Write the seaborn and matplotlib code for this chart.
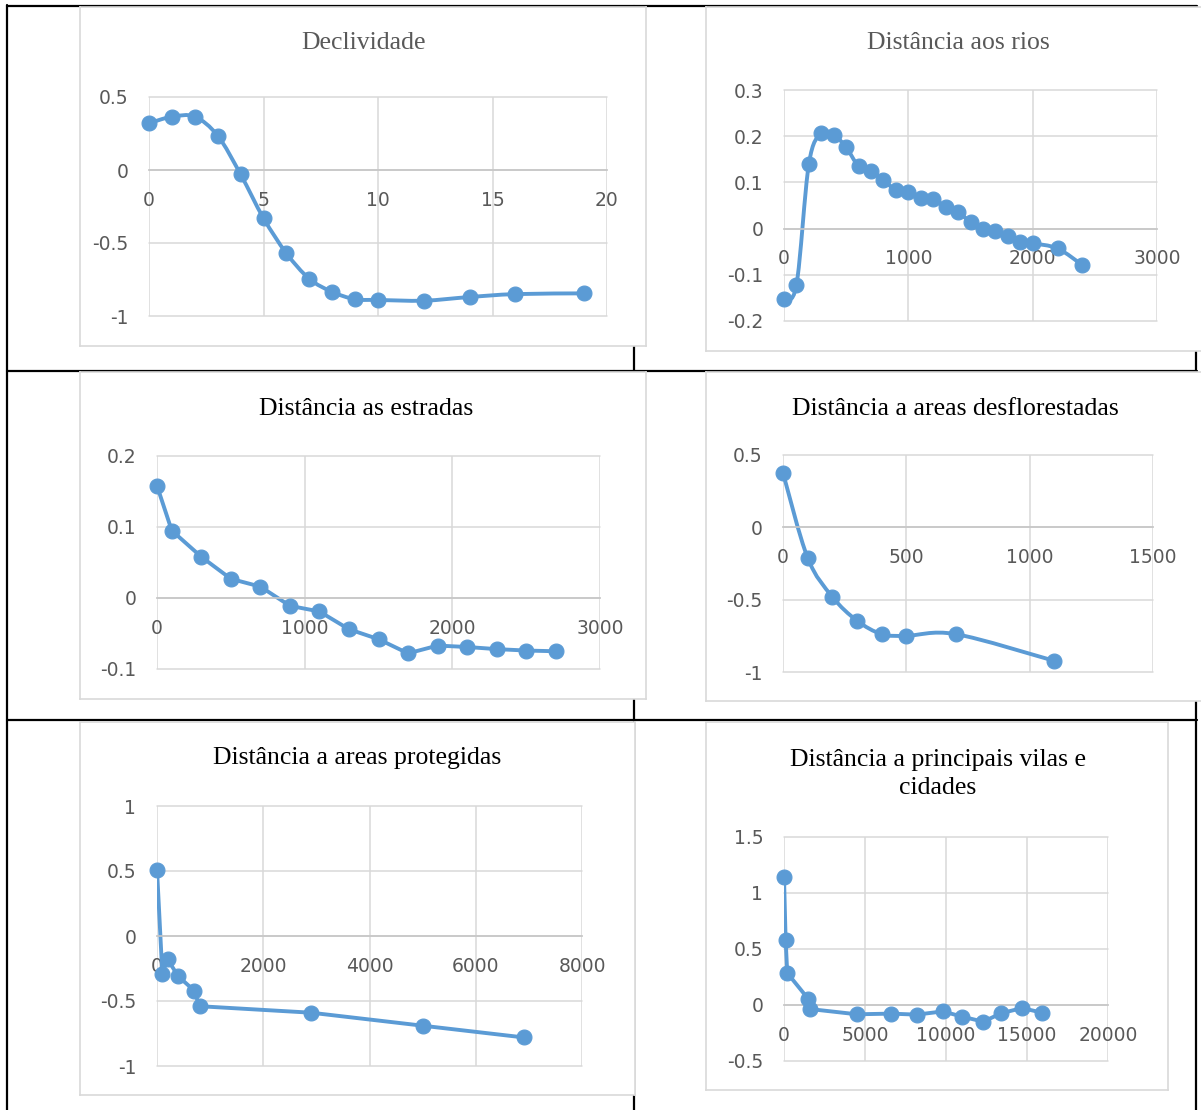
import numpy as np
import matplotlib
matplotlib.use("Agg")
import matplotlib.pyplot as plt
import seaborn as sns
import pandas as pd
from matplotlib.path import Path
from matplotlib.patches import PathPatch
from matplotlib.lines import Line2D

# ---------------- data ----------------
titles = ["Declividade", "Distância aos rios", "Distância as estradas",
          "Distância a areas desflorestadas", "Distância a areas protegidas",
          "Distância a principais vilas e\ncidades"]

decl_x = [0, 1, 2, 3, 4, 5, 6, 7, 8, 9, 10, 12, 14, 16, 19]
decl_y = [0.32, 0.365, 0.365, 0.235, -0.03, -0.33, -0.57, -0.745, -0.835,
          -0.885, -0.89, -0.895, -0.87, -0.85, -0.845]

rios_x = [0, 100, 200, 300, 400, 500, 600, 700, 800, 900, 1000, 1100, 1200,
          1300, 1400, 1500, 1600, 1700, 1800, 1900, 2000, 2200, 2400]
rios_y = [-0.153, -0.122, 0.140, 0.207, 0.203, 0.176, 0.135, 0.124, 0.105,
          0.083, 0.079, 0.066, 0.065, 0.047, 0.036, 0.014, -0.001, -0.006,
          -0.017, -0.030, -0.032, -0.043, -0.079]

estr_x = [0, 100, 300, 500, 700, 900, 1100, 1300, 1500, 1700, 1900, 2100,
          2300, 2500, 2700]
estr_y = [0.158, 0.095, 0.058, 0.027, 0.016, -0.011, -0.019, -0.044, -0.058,
          -0.078, -0.067, -0.069, -0.072, -0.074, -0.075]

desf_x = [0, 100, 200, 300, 400, 500, 700, 1100]
desf_y = [0.376, -0.211, -0.48, -0.645, -0.738, -0.75, -0.738, -0.923]

prot_x = [0, 100, 200, 400, 700, 800, 2900, 5000, 6900]
prot_y = [0.51, -0.29, -0.18, -0.31, -0.42, -0.54, -0.59, -0.69, -0.78]

vilas_x = [0, 100, 200, 1500, 1600, 4500, 6600, 8200, 9800, 11000, 12300,
           13400, 14700, 15900]
vilas_y = [1.143, 0.583, 0.286, 0.054, -0.036, -0.083, -0.077, -0.086,
           -0.057, -0.104, -0.149, -0.074, -0.027, -0.068]

xticks = [[0, 5, 10, 15, 20], [0, 1000, 2000, 3000], [0, 1000, 2000, 3000],
          [0, 500, 1000, 1500], [0, 2000, 4000, 6000, 8000],
          [0, 5000, 10000, 15000, 20000]]
yticks = [[-1, -0.5, 0, 0.5], [-0.2, -0.1, 0, 0.1, 0.2, 0.3],
          [-0.1, 0, 0.1, 0.2], [-1, -0.5, 0, 0.5], [-1, -0.5, 0, 0.5, 1],
          [-0.5, 0, 0.5, 1, 1.5]]
series = [(decl_x, decl_y), (rios_x, rios_y), (estr_x, estr_y),
          (desf_x, desf_y), (prot_x, prot_y), (vilas_x, vilas_y)]
smoothed = [True, True, False, True, False, False]
title_colors = ["#595959", "#595959", "black", "black", "black", "black"]

# ---------------- layout (pixels) ----------------
W, H = 1201, 1110
chart_boxes = [(80, 7, 646, 346), (706, 7, 1205, 351), (80, 372, 646, 699),
               (706, 372, 1205, 701), (80, 722, 635, 1095), (706, 722, 1168, 1090)]
plot_boxes = [(149, 97, 607, 316), (784, 90, 1157, 321), (157, 456, 600, 669),
              (783, 455, 1153, 672), (157, 806, 582, 1066), (784, 837, 1108, 1061)]
title_pos = [(364, 43), (958, 43), (366, 409), (955, 409), (357, 758), (938, 774)]

BLUE = "#5b9bd5"
GRID = "#d9d9d9"
TICKC = "#595959"

sns.set_theme(style="white")
plt.rcParams["font.family"] = ["DejaVu Sans"]

fig = plt.figure(figsize=(W / 100, H / 100), dpi=100)
fig.patch.set_facecolor("white")


def rect(box):
    x0, y0, x1, y1 = box
    return [x0 / W, 1 - y1 / H, (x1 - x0) / W, (y1 - y0) / H]


def fx(px):
    return px / W


def fy(py):
    return 1 - py / H


# table lines
for (xa, ya, xb, yb) in [(7, 5, 7, 1110), (7, 6, 1197, 6), (7, 371, 1197, 371),
                         (7, 720, 1197, 720), (634, 6, 634, 1110),
                         (1196, 6, 1196, 1110)]:
    fig.add_artist(Line2D([fx(xa), fx(xb)], [fy(ya), fy(yb)], color="black",
                          lw=1.6, zorder=-5, transform=fig.transFigure))


def smooth_path(x, y):
    pts = np.column_stack([x, y]).astype(float)
    n = len(pts)
    verts = [pts[0]]
    codes = [Path.MOVETO]
    for i in range(n - 1):
        p0 = pts[i - 1] if i > 0 else pts[i]
        p1 = pts[i]
        p2 = pts[i + 1]
        p3 = pts[i + 2] if i + 2 < n else pts[i + 1]
        c1 = p1 + (p2 - p0) / 6.0
        c2 = p2 - (p3 - p1) / 6.0
        verts += [c1, c2, p2]
        codes += [Path.CURVE4] * 3
    return Path(verts, codes)


def fmt(v):
    return f"{v:g}"


for i in range(6):
    bg = fig.add_axes(rect(chart_boxes[i]), zorder=0)
    bg.set_facecolor("white")
    bg.set_xticks([])
    bg.set_yticks([])
    for s in bg.spines.values():
        s.set_color(GRID)
        s.set_linewidth(1.2)

    ax = fig.add_axes(rect(plot_boxes[i]), zorder=1)
    ax.set_facecolor("none")
    x, y = series[i]
    df = pd.DataFrame({"x": x, "y": y})
    if smoothed[i]:
        ax.add_patch(PathPatch(smooth_path(x, y), facecolor="none",
                               edgecolor=BLUE, lw=2.8, zorder=2,
                               capstyle="round", joinstyle="round"))
    else:
        sns.lineplot(data=df, x="x", y="y", ax=ax, color=BLUE, lw=2.8,
                     estimator=None, sort=False, zorder=2)
    sns.scatterplot(data=df, x="x", y="y", ax=ax, color=BLUE, s=115,
                    edgecolor=BLUE, linewidth=0.8, zorder=3, clip_on=False)

    xt, yt = xticks[i], yticks[i]
    ax.set_xlim(xt[0], xt[-1])
    ax.set_ylim(yt[0], yt[-1])
    ax.set_xticks(xt)
    ax.set_yticks(yt)
    ax.set_xticklabels([fmt(v) for v in xt])
    ax.set_yticklabels([fmt(v) for v in yt])
    ax.set_xlabel("")
    ax.set_ylabel("")
    ax.grid(True, color=GRID, lw=1.1)
    for ln in ax.xaxis.get_gridlines() + ax.yaxis.get_gridlines():
        ln.set_clip_on(False)
    for side in ["top", "right", "left"]:
        ax.spines[side].set_visible(False)
    ax.spines["bottom"].set_position(("data", 0))
    ax.spines["bottom"].set_color("#c6c6c6")
    ax.spines["bottom"].set_linewidth(1.2)
    ax.tick_params(axis="both", length=0, labelsize=13.5, labelcolor=TICKC)
    ax.tick_params(axis="x", pad=15)
    ax.tick_params(axis="y", pad=15)

    tx, ty = title_pos[i]
    fig.text(fx(tx), fy(ty), titles[i], ha="center", va="center",
             fontsize=18.5, family="Liberation Serif", color=title_colors[i],
             linespacing=1.3, zorder=10)

fig.savefig("out.png", dpi=100, facecolor="white")
